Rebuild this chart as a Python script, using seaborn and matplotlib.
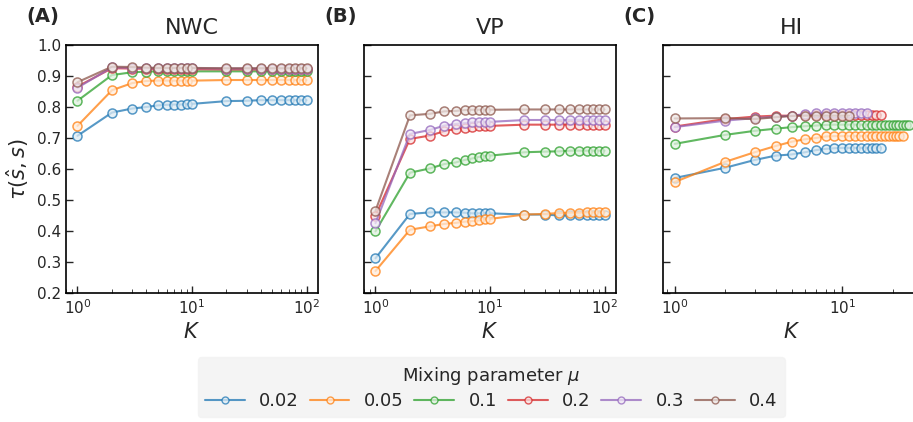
import numpy as np
import pandas as pd
import matplotlib
matplotlib.use("Agg")
import matplotlib.pyplot as plt
import matplotlib.colors as mcolors
from matplotlib.lines import Line2D
import seaborn as sns

# ---- data -------------------------------------------------------------
mus = ["0.02", "0.05", "0.1", "0.2", "0.3", "0.4"]
K_grid = [1, 2, 3, 4, 5, 6, 7, 8, 9, 10, 20, 30, 40, 50, 60, 70, 80, 90, 100]

nwc_002 = [0.707, 0.782, 0.795, 0.800, 0.805, 0.807, 0.808, 0.808, 0.809, 0.810,
           0.819, 0.820, 0.822, 0.822, 0.822, 0.822, 0.822, 0.822, 0.822]
nwc_005 = [0.739, 0.854, 0.877, 0.884, 0.885, 0.885, 0.885, 0.885, 0.885, 0.885,
           0.887, 0.887, 0.887, 0.887, 0.887, 0.887, 0.887, 0.887, 0.887]
nwc_01 = [0.820, 0.903, 0.912, 0.914, 0.915, 0.915, 0.915, 0.915, 0.915, 0.915,
          0.915, 0.915, 0.915, 0.915, 0.915, 0.915, 0.915, 0.915, 0.915]
nwc_02 = [0.866, 0.925, 0.924, 0.923, 0.922, 0.922, 0.922, 0.922, 0.922, 0.922,
          0.921, 0.921, 0.921, 0.921, 0.921, 0.921, 0.921, 0.921, 0.921]
nwc_03 = [0.862, 0.928, 0.926, 0.925, 0.925, 0.925, 0.925, 0.925, 0.925, 0.925,
          0.924, 0.924, 0.924, 0.924, 0.924, 0.924, 0.924, 0.924, 0.924]
nwc_04 = [0.880, 0.930, 0.929, 0.927, 0.926, 0.926, 0.926, 0.926, 0.926, 0.926,
          0.925, 0.925, 0.925, 0.925, 0.925, 0.925, 0.925, 0.925, 0.925]

vp_002 = [0.312, 0.455, 0.460, 0.460, 0.460, 0.459, 0.457, 0.457, 0.457, 0.457,
          0.453, 0.453, 0.450, 0.450, 0.450, 0.450, 0.450, 0.450, 0.450]
vp_005 = [0.271, 0.404, 0.415, 0.423, 0.426, 0.430, 0.432, 0.434, 0.438, 0.439,
          0.453, 0.455, 0.458, 0.459, 0.459, 0.460, 0.460, 0.460, 0.460]
vp_01 = [0.399, 0.588, 0.602, 0.616, 0.621, 0.629, 0.634, 0.639, 0.642, 0.643,
         0.654, 0.656, 0.657, 0.659, 0.659, 0.659, 0.659, 0.659, 0.659]
vp_02 = [0.449, 0.697, 0.708, 0.722, 0.729, 0.733, 0.737, 0.738, 0.739, 0.739,
         0.743, 0.743, 0.743, 0.743, 0.743, 0.743, 0.743, 0.743, 0.743]
vp_03 = [0.425, 0.713, 0.726, 0.740, 0.745, 0.748, 0.750, 0.752, 0.752, 0.752,
         0.758, 0.758, 0.758, 0.758, 0.758, 0.759, 0.759, 0.759, 0.759]
vp_04 = [0.465, 0.773, 0.778, 0.786, 0.787, 0.790, 0.791, 0.791, 0.791, 0.791,
         0.792, 0.792, 0.792, 0.792, 0.792, 0.792, 0.792, 0.792, 0.792]

hi_002 = [0.571, 0.604, 0.629, 0.643, 0.647, 0.654, 0.661, 0.665, 0.667, 0.668,
          0.668, 0.668, 0.668, 0.668, 0.668, 0.668, 0.668]
hi_005 = [0.558, 0.623, 0.654, 0.674, 0.688, 0.696, 0.700, 0.705, 0.706, 0.706,
          0.706, 0.706, 0.706, 0.706, 0.706, 0.706, 0.706, 0.706, 0.706, 0.706,
          0.706, 0.706, 0.706]
hi_01 = [0.681, 0.710, 0.723, 0.730, 0.735, 0.738, 0.740, 0.742, 0.743, 0.743,
         0.743, 0.743, 0.743, 0.743, 0.743, 0.743, 0.743, 0.743, 0.743, 0.743,
         0.743, 0.743, 0.743, 0.743, 0.743]
hi_02 = [0.737, 0.761, 0.769, 0.772, 0.772, 0.774, 0.774, 0.774, 0.774, 0.774,
         0.774, 0.774, 0.774, 0.774, 0.774, 0.774, 0.774]
hi_03 = [0.735, 0.756, 0.764, 0.768, 0.772, 0.777, 0.780, 0.782, 0.782, 0.782,
         0.782, 0.782, 0.782, 0.782]
hi_04 = [0.763, 0.764, 0.761, 0.767, 0.771, 0.772, 0.772, 0.772, 0.772, 0.772,
         0.772]

panels = ["NWC", "VP", "HI"]
panel_tags = ["(A)", "(B)", "(C)"]
series = {
    "NWC": [nwc_002, nwc_005, nwc_01, nwc_02, nwc_03, nwc_04],
    "VP": [vp_002, vp_005, vp_01, vp_02, vp_03, vp_04],
    "HI": [hi_002, hi_005, hi_01, hi_02, hi_03, hi_04],
}

rows = []
for p in panels:
    for mu, vals in zip(mus, series[p]):
        ks = K_grid if p != "HI" else list(range(1, len(vals) + 1))
        for k, v in zip(ks, vals):
            rows.append({"panel": p, "mu": mu, "K": k, "tau": v})
df = pd.DataFrame(rows)

# ---- style ------------------------------------------------------------
sns.set_style("white")
plt.rcParams.update({
    "xtick.direction": "in", "ytick.direction": "in",
    "xtick.bottom": True, "ytick.left": True,
    "xtick.major.size": 5, "ytick.major.size": 5,
    "xtick.minor.size": 3, "xtick.major.width": 1.0, "ytick.major.width": 1.0,
    "axes.edgecolor": "black", "axes.linewidth": 1.2,
    "font.family": ["DejaVu Sans"],
})
palette = sns.color_palette("tab10", len(mus))
colors = dict(zip(mus, palette))
LINE_ALPHA = 0.75


def face(c, amt=0.85):
    c = np.array(mcolors.to_rgb(c))
    return tuple(c + (1 - c) * amt)


fig = plt.figure(figsize=(9.13, 4.22), dpi=100)
lefts = [0.0723, 0.3987, 0.7262]
widths = [0.276, 0.276, 0.282]
bottom, height = 0.3057, 0.5877

for i, p in enumerate(panels):
    ax = fig.add_axes([lefts[i], bottom, widths[i], height])
    sns.lineplot(data=df[df.panel == p], x="K", y="tau", hue="mu",
                 hue_order=mus, palette=colors, marker="o", markersize=6.5,
                 linewidth=1.5, alpha=LINE_ALPHA, legend=False, ax=ax)
    for line in ax.lines:
        c = line.get_color()
        line.set_markeredgecolor(c)
        line.set_markerfacecolor(face(c))
        line.set_markeredgewidth(1.1)
    ax.set_xscale("log")
    ax.set_ylim(0.2, 1.0)
    ax.set_yticks(np.arange(0.2, 1.01, 0.1))
    ax.set_title(p, fontsize=16, pad=8)
    ax.set_xlabel("$K$", fontsize=15)
    ax.tick_params(labelsize=11)
    if i == 0:
        ax.set_ylabel(r"$\tau(\hat{s}, s)$", fontsize=15)
        ax.yaxis.set_major_formatter(matplotlib.ticker.FormatStrFormatter("%.1f"))
    else:
        ax.set_ylabel("")
        ax.tick_params(axis="y", labelleft=False)
    fig.text(lefts[i] - 0.043, 0.96, panel_tags[i], fontsize=14,
             fontweight="bold", va="center", ha="left")

handles = [Line2D([0], [0], color=colors[m], lw=1.5, marker="o", markersize=5,
                  alpha=LINE_ALPHA, markeredgecolor=colors[m],
                  markerfacecolor=face(colors[m]))
           for m in mus]
leg = fig.legend(handles, mus, loc="lower center", bbox_to_anchor=(0.538, -0.01),
                 ncol=6, fontsize=13, title=r"Mixing parameter $\mu$",
                 title_fontsize=13, frameon=True, fancybox=True,
                 handlelength=2.2, columnspacing=0.6, handletextpad=0.8,
                 borderpad=0.4, labelspacing=0.3)
leg.get_frame().set_facecolor("#f2f2f2")
leg.get_frame().set_edgecolor("#f2f2f2")

fig.savefig("out.png", dpi=100)
